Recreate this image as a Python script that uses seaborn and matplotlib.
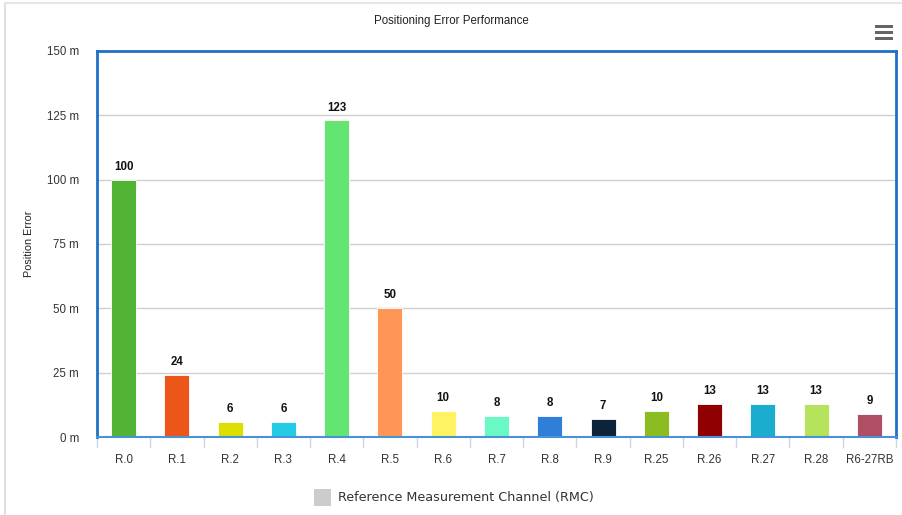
import matplotlib
matplotlib.use("Agg")
import matplotlib.pyplot as plt
from matplotlib.patches import Rectangle
from matplotlib.lines import Line2D
import seaborn as sns
import pandas as pd
import numpy as np

categories = ["R.0", "R.1", "R.2", "R.3", "R.4", "R.5", "R.6", "R.7", "R.8", "R.9",
              "R.25", "R.26", "R.27", "R.28", "R6-27RB"]
errors = [100, 24, 6, 6, 123, 50, 10, 8, 8, 7, 10, 13, 13, 13, 9]
colors = ["#52b434", "#ec561b", "#dddf00", "#24cbe5", "#64e572", "#ff9655", "#fff263",
          "#6af9c4", "#2f7ed8", "#0d233a", "#8bbc21", "#910000", "#1aadce", "#b5e35b",
          "#b04f63"]
y_ticks = [0, 25, 50, 75, 100, 125, 150]

df = pd.DataFrame({"channel": categories, "error": errors})

sns.set_style("white")
plt.rcParams["font.family"] = ["Liberation Sans", "DejaVu Sans"]

fig = plt.figure(figsize=(9.02, 5.15), dpi=100)
ax = fig.add_axes([97 / 902, 1 - 437 / 515, 799 / 902, 386 / 515])

sns.barplot(data=df, x="channel", y="error", hue="channel", palette=colors,
            order=categories, hue_order=categories, legend=False, width=0.47,
            edgecolor="white", linewidth=0.6, saturation=1, ax=ax)

ax.set_ylim(0, 150)
ax.set_xlim(-0.5, len(categories) - 0.5)
ax.set_yticks(y_ticks)
ax.set_yticklabels([f"{v} m" for v in y_ticks], fontsize=8.3, color="#333333")
ax.tick_params(axis="y", length=10, width=1, color="#c0d0e0", pad=3)
ax.set_xticks(range(len(categories)))
ax.set_xticklabels(categories, fontsize=8.3, color="#333333")
ax.tick_params(axis="x", length=0, pad=12)
ax.set_xlabel("")
ax.set_ylabel("Position Error", fontsize=7.8, color="#222222", labelpad=9)

# gridlines
for v in y_ticks[1:-1]:
    ax.axhline(v, color="#d0d0d0", linewidth=1, zorder=0)

# category separator ticks below the axis
for b in np.arange(-0.5, len(categories) + 0.5, 1.0):
    ax.add_line(Line2D([b, b], [0, -0.027], transform=ax.get_xaxis_transform(),
                       color="#c8d6e6", linewidth=1, clip_on=False))

for side in ["left", "top", "right"]:
    ax.spines[side].set_color("#1f70c8")
    ax.spines[side].set_linewidth(2)
ax.spines["bottom"].set_color("#4a92d6")
ax.spines["bottom"].set_linewidth(1.5)

# value labels
for i, v in enumerate(errors):
    ax.annotate(f"{v}", (i, v), xytext=(0, 5), textcoords="offset points",
                ha="center", va="bottom", fontsize=8.3, fontweight="bold",
                color="#111111")

fig.text(0.5, 1 - 21 / 515, "Positioning Error Performance", ha="center",
         va="center", fontsize=8.3, color="#222222")

# legend
fig.patches.append(Rectangle((314 / 902, 1 - 506 / 515), 17 / 902, 17 / 515,
                             transform=fig.transFigure, facecolor="#cccccc",
                             edgecolor="none"))
fig.text(338 / 902, 1 - 497 / 515, "Reference Measurement Channel (RMC)",
         ha="left", va="center", fontsize=9.2, color="#333333",
         family=["DejaVu Sans"])

# menu icon
for yy in (26, 32, 38):
    fig.patches.append(Rectangle((875 / 902, 1 - (yy + 2) / 515), 18 / 902, 3.5 / 515,
                                 transform=fig.transFigure, facecolor="#666666",
                                 edgecolor="none"))

# outer frame lines
fig.add_artist(Line2D([5 / 902, 5 / 902], [0, 1 - 3 / 515], transform=fig.transFigure,
                      color="#e0e0e0", linewidth=1.5))
fig.add_artist(Line2D([5 / 902, 1], [1 - 3 / 515, 1 - 3 / 515], transform=fig.transFigure,
                      color="#e6e6e6", linewidth=1.5))

fig.savefig("out.png", dpi=100)
